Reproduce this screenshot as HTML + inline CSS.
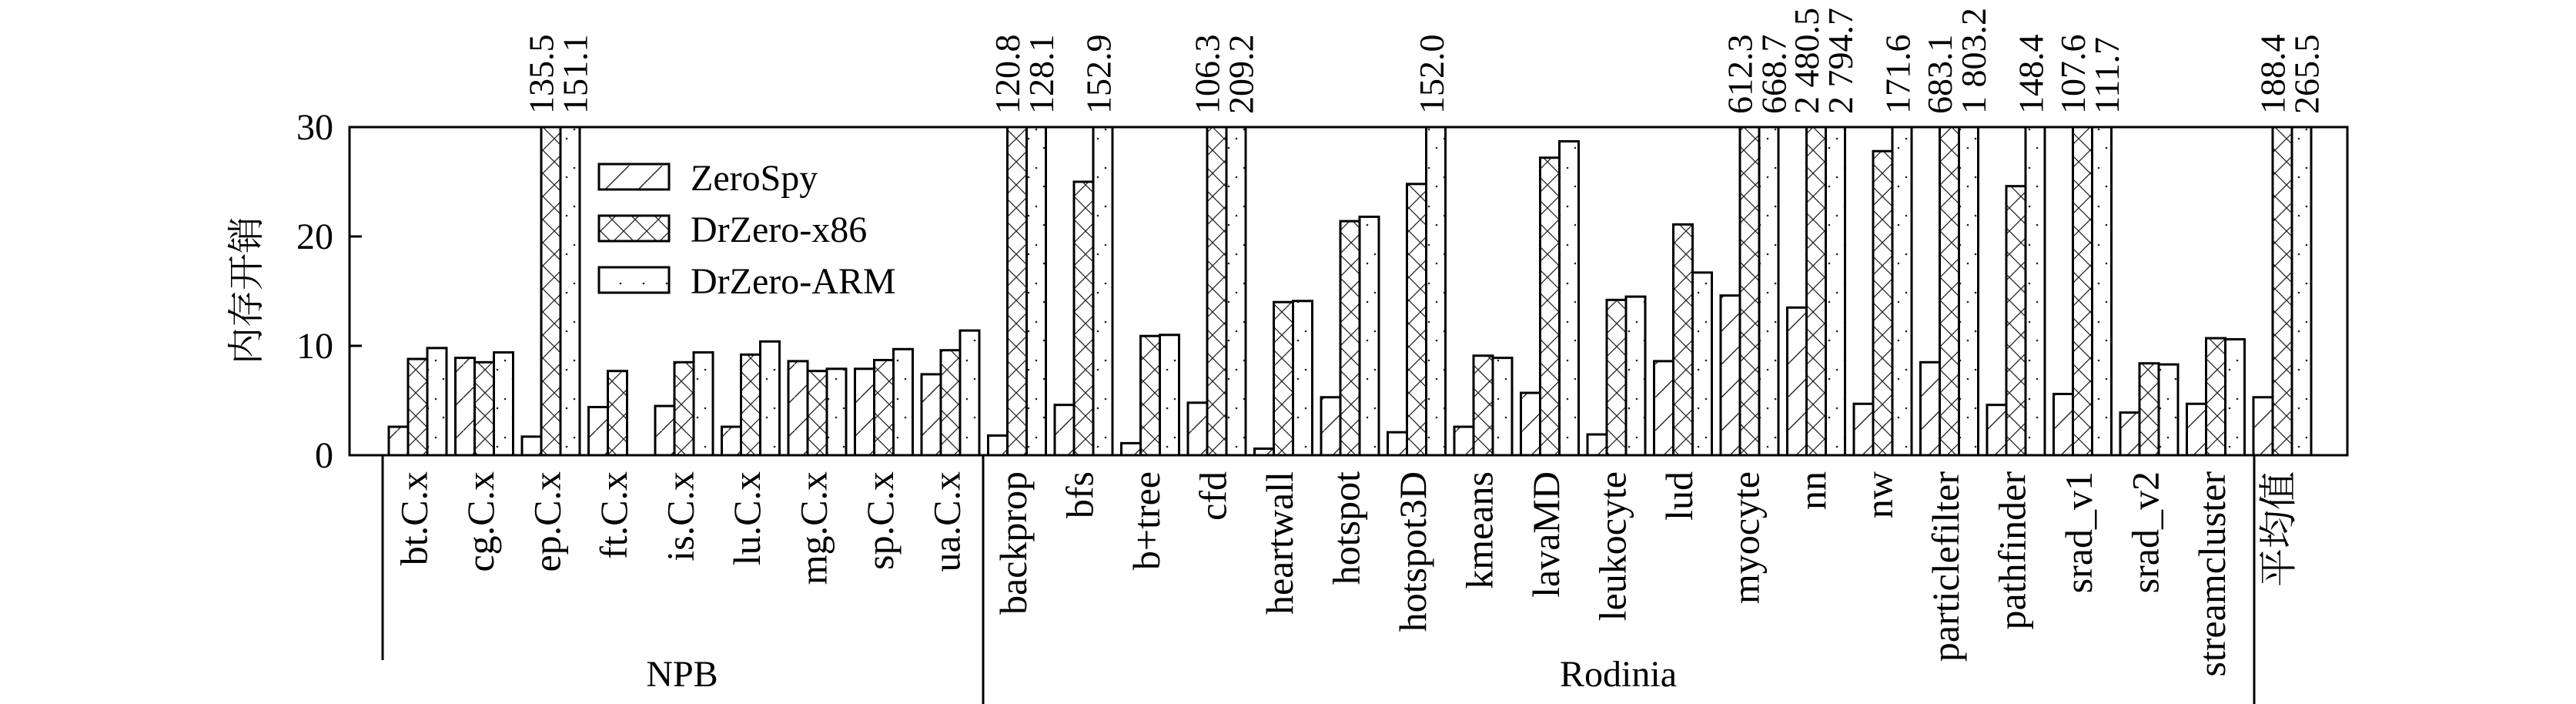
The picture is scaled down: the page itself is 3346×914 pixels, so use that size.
<!DOCTYPE html>
<html><head><meta charset="utf-8">
<style>html,body{margin:0;padding:0;background:#fff;}svg{display:block;}
svg text{font-family:"Liberation Serif","Noto Serif CJK SC",serif;}
svg text.cjk{font-family:"Noto Serif CJK SC","Noto Sans CJK SC",serif;}</style>
</head><body>
<svg id="c" xmlns="http://www.w3.org/2000/svg" width="3346" height="914" viewBox="0 0 3346 914">
<defs>
<pattern id="pz" patternUnits="userSpaceOnUse" width="43" height="43">
<line x1="-2" y1="45" x2="45" y2="-2" stroke="#222" stroke-width="1.4"/>
</pattern>
<pattern id="px" patternUnits="userSpaceOnUse" width="30" height="30">
<line x1="0" y1="0" x2="30" y2="30" stroke="#222" stroke-width="1.3"/>
<line x1="30" y1="0" x2="0" y2="30" stroke="#222" stroke-width="1.3"/>
</pattern>
<pattern id="pa" patternUnits="userSpaceOnUse" width="30" height="50">
<circle cx="6" cy="42" r="1.3" fill="#222"/>
<circle cx="16" cy="30" r="1.3" fill="#222"/>
<circle cx="26" cy="18" r="1.3" fill="#222"/>
</pattern>
</defs>
<g id="g"></g>
</svg>
<script>
var data=[["bt.C.x",2.6,8.8,9.8],["cg.C.x",8.9,8.5,9.4],["ep.C.x",1.7,135.5,151.1],["ft.C.x",4.4,7.7,0],["is.C.x",4.5,8.5,9.4],["lu.C.x",2.6,9.2,10.4],["mg.C.x",8.6,7.7,7.9],["sp.C.x",7.9,8.7,9.7],["ua.C.x",7.4,9.6,11.4],
["backprop",1.8,120.8,128.1],["bfs",4.6,25.0,152.9],["b+tree",1.1,10.9,11.0],["cfd",4.8,106.3,209.2],["heartwall",0.6,14.0,14.1],["hotspot",5.3,21.4,21.8],["hotspot3D",2.1,24.8,152.0],["kmeans",2.6,9.1,8.9],["lavaMD",5.7,27.2,28.7],["leukocyte",1.9,14.2,14.5],["lud",8.6,21.1,16.7],["myocyte",14.6,612.3,668.7],["nn",13.5,2480.5,2794.7],["nw",4.7,27.8,171.6],["particlefilter",8.5,683.1,1803.2],["pathfinder",4.6,24.6,148.4],["srad_v1",5.6,107.6,111.7],["srad_v2",3.9,8.4,8.3],["streamcluster",4.7,10.7,10.6],["平均值",5.3,188.4,265.5]];
var L=454,R=3049,T=165,B=591,k=(B-T)/30,s="";
var pats=["url(#pz)","url(#px)","url(#pa)"];
function fmt(v){var t=v.toFixed(1);var p=t.split(".");if(p[0].length>3)p[0]=p[0].slice(0,-3)+" "+p[0].slice(-3);return p.join(".");}
data.forEach(function(d,i){
 var x0=505+86.5*i;
 for(var j=0;j<3;j++){var v=d[j+1];if(v<=0)continue;var h=Math.min(v,30)*k;var x=x0+25*j;
  s+='<rect x="'+x+'" y="'+(B-h)+'" width="25" height="'+h+'" fill="white"/>';
  s+='<rect x="'+x+'" y="'+(B-h)+'" width="25" height="'+h+'" fill="'+pats[j]+'" stroke="#000" stroke-width="3"/>';}
 var big1=d[2]>30,big2=d[3]>30;
 function lab(cx,v){var bx=cx+15;s+='<text transform="translate('+bx+',148) rotate(-90)" font-size="46">'+fmt(v)+'</text>';}
 if(big1&&big2){lab(x0+37.5-12,d[2]);lab(x0+62.5+7,d[3]);}
 else if(big2){lab(x0+62.5-5,d[3]);}
 else if(big1){lab(x0+37.5-5,d[2]);}
 var cx=x0+37.5;
 var cls=(i==28)?' class="cjk"':'';
 s+='<text'+cls+' transform="translate('+(cx+12)+',612) rotate(-90)" font-size="50" text-anchor="end">'+d[0]+'</text>';
});
s+='<rect x="'+L+'" y="'+T+'" width="'+(R-L)+'" height="'+(B-T)+'" fill="none" stroke="#000" stroke-width="3"/>';
[0,10,20,30].forEach(function(v){var y=B-v*k;s+='<line x1="'+L+'" y1="'+y+'" x2="'+(L+16)+'" y2="'+y+'" stroke="#000" stroke-width="3"/>';
 s+='<text x="433" y="'+(y+16)+'" font-size="48" text-anchor="end">'+v+'</text>';});
s+='<text class="cjk" transform="translate(336,377) rotate(-90)" font-size="48" text-anchor="middle">内存开销</text>';
s+='<line x1="497" y1="'+B+'" x2="497" y2="857" stroke="#000" stroke-width="3"/>';
s+='<line x1="1277" y1="'+B+'" x2="1277" y2="914" stroke="#000" stroke-width="3"/>';
s+='<line x1="2928" y1="'+B+'" x2="2928" y2="914" stroke="#000" stroke-width="3"/>';
s+='<text x="886" y="891" font-size="48" text-anchor="middle">NPB</text>';
s+='<text x="2102" y="891" font-size="48" text-anchor="middle">Rodinia</text>';
var leg=[["ZeroSpy",213],["DrZero-x86",280],["DrZero-ARM",347]];
leg.forEach(function(l,j){s+='<rect x="778" y="'+l[1]+'" width="91" height="33" fill="white"/>';
 s+='<rect x="778" y="'+l[1]+'" width="91" height="33" fill="'+pats[j]+'" stroke="#000" stroke-width="3"/>';
 s+='<text x="897" y="'+(l[1]+34)+'" font-size="48">'+l[0]+'</text>';});
document.getElementById("g").innerHTML=s;
</script>
</body></html>
